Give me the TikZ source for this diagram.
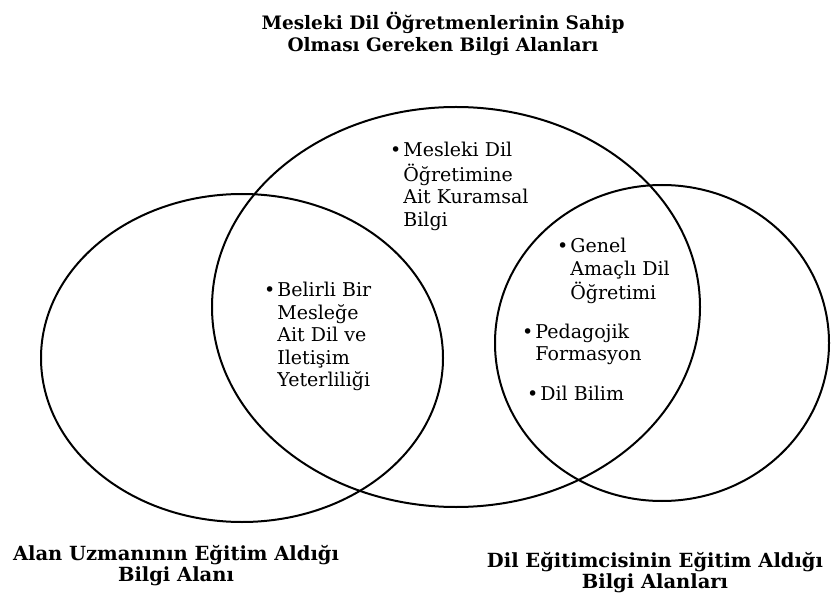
\documentclass[tikz,border=0pt]{standalone}
\usepackage{fontspec}
\setmainfont{DejaVu Serif}
\usepackage{tikz}
\usepackage{xcolor}
\tikzset{
    venn-set/.style = {draw=black, line width=2pt},
    head-title/.style = {font=\fontsize{18.5}{22}\selectfont\bfseries, align=center, inner sep=0pt},
    set-title/.style = {font=\fontsize{19.5}{21}\selectfont\bfseries, align=center, inner sep=0pt},
    bullet-item/.style = {font=\fontsize{19}{22.5}\selectfont, anchor=base west, inner sep=0pt},
}
\newcommand{\itemlist}[1]{\begin{tabular}[t]{@{}l@{\hspace{2pt}}l@{}}#1\end{tabular}}

\begin{document}
\begin{tikzpicture}[x=1pt, y=-1pt]
\useasboundingbox (0,0) rectangle (832,593);
% the three sets
\draw[venn-set] (242,358) ellipse [x radius=201, y radius=164];
\draw[venn-set] (456,307) ellipse [x radius=244, y radius=200];
\draw[venn-set] (662,343) ellipse [x radius=167, y radius=158];
% titles
\node[head-title] (title) at (443,34) {Mesleki Dil Öğretmenlerinin Sahip\\Olması Gereken Bilgi Alanları};
\node[set-title] (left-title) at (176,566) {Alan Uzmanının Eğitim Aldığı\\Bilgi Alanı};
\node[set-title] (right-title) at (655,573) {Dil Eğitimcisinin Eğitim Aldığı\\Bilgi Alanları};
% items
\node[bullet-item] (theory) at (390,157) {\itemlist{\textbullet & Mesleki Dil\\ & Öğretimine\\ & Ait Kuramsal\\ & Bilgi}};
\node[bullet-item] (competence) at (264,297) {\itemlist{\textbullet & Belirli Bir\\ & Mesleğe\\ & Ait Dil ve\\ & Iletişim\\ & Yeterliliği}};
\node[bullet-item] (general) at (557,253) {\itemlist{\textbullet & Genel\\ & Amaçlı Dil\\ & Öğretimi}};
\node[bullet-item] (pedagogy) at (522,338) {\itemlist{\textbullet & Pedagojik\\ & Formasyon}};
\node[bullet-item] (linguistics) at (527,400) {\itemlist{\textbullet & Dil Bilim}};
\end{tikzpicture}
\end{document}
